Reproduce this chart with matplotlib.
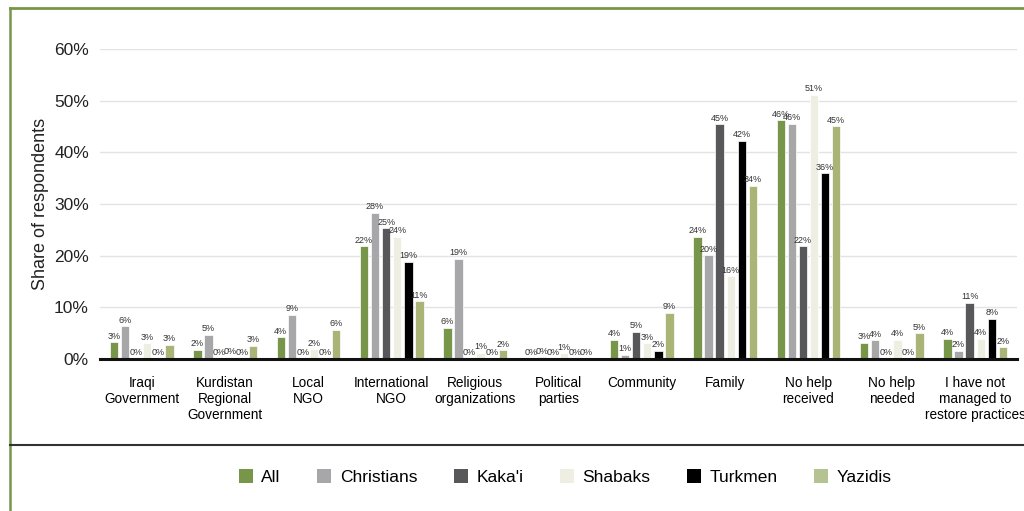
import matplotlib
matplotlib.use("Agg")
import matplotlib.pyplot as plt
import numpy as np
from matplotlib.lines import Line2D
from matplotlib.patches import Patch

categories = ["Iraqi\nGovernment", "Kurdistan\nRegional\nGovernment", "Local\nNGO",
              "International\nNGO", "Religious\norganizations", "Political\nparties",
              "Community", "Family", "No help\nreceived", "No help\nneeded",
              "I have not\nmanaged to\nrestore practices"]
groups = ["All", "Christians", "Kaka'i", "Shabaks", "Turkmen", "Yazidis"]

all_vals = [3.2, 1.8, 4.2, 21.8, 6.0, 0.0, 3.7, 23.6, 46.2, 3.1, 3.9]
christians = [6.3, 4.7, 8.6, 28.3, 19.4, 0.3, 0.8, 20.1, 45.5, 3.6, 1.6]
kakai = [0.0, 0.0, 0.0, 25.3, 0.0, 0.0, 5.3, 45.4, 21.8, 0.0, 10.9]
shabaks = [3.0, 0.3, 1.9, 23.6, 1.2, 1.1, 3.0, 16.0, 51.1, 3.7, 3.9]
turkmen = [0.0, 0.0, 0.0, 18.8, 0.0, 0.0, 1.6, 42.2, 35.9, 0.0, 7.8]
yazidis = [2.7, 2.6, 5.7, 11.2, 1.7, 0.0, 8.9, 33.5, 45.0, 5.0, 2.3]
series = [all_vals, christians, kakai, shabaks, turkmen, yazidis]

colors = ["#77964a", "#a7a7aa", "#58585a", "#eeeee2", "#000000", "#a9b476"]
legend_colors = ["#77964a", "#a7a7aa", "#58585a", "#eeeee2", "#000000", "#b5c292"]

plt.rcParams['font.family'] = ['Liberation Sans', 'DejaVu Sans']

fig = plt.figure(figsize=(10.24, 5.11), dpi=100)
ax = fig.add_axes([0.0977, 0.2975, 0.8953, 0.6067])

x = np.arange(len(categories))
w = 0.1
step = 0.133
for i, vals in enumerate(series):
    pos = x + (i - 2.5) * step
    bars = ax.bar(pos, vals, width=w, color=colors[i], edgecolor="white", linewidth=0.5, zorder=3)
    for b, v in zip(bars, vals):
        ax.text(b.get_x() + b.get_width() / 2, v + 0.3, f"{round(v)}%", ha="center", va="bottom",
                fontsize=6.5, color="#333333", zorder=4)

ax.set_xlim(-0.5, len(categories) - 0.5)
ax.set_ylim(0, 60)
ax.set_yticks(range(0, 61, 10))
ax.set_yticklabels([f"{t}%" for t in range(0, 61, 10)], fontsize=12.5, color="#222222")
ax.set_xticks(x)
ax.set_xticklabels(categories, fontsize=9.8, linespacing=1.2)
ax.tick_params(axis="y", length=0, pad=8)
ax.tick_params(axis="x", length=0, pad=12)
ax.grid(axis="y", color="#e3e3e3", linewidth=1, zorder=0)
for s in ["left", "right", "top"]:
    ax.spines[s].set_visible(False)
ax.spines["bottom"].set_linewidth(2.2)
ax.spines["bottom"].set_color("#111111")
ax.spines["bottom"].set_zorder(5)
ax.set_ylabel("Share of respondents", fontsize=13, labelpad=4, color="#222222")

# frame lines
fig.add_artist(Line2D([0.0098, 1.0], [0.984, 0.984], color="#77964a", linewidth=2))
fig.add_artist(Line2D([0.0098, 0.0098], [0.0, 0.984], color="#77964a", linewidth=1.8))
fig.add_artist(Line2D([0.0098, 1.0], [0.129, 0.129], color="#333333", linewidth=1.5))

handles = [Patch(facecolor=c, edgecolor="none") for c in legend_colors]
fig.legend(handles, groups, loc="center", bbox_to_anchor=(0.552, 0.067), ncol=6, frameon=False,
           fontsize=12.5, handlelength=0.8, handleheight=0.9, handletextpad=0.5, columnspacing=2.1)

fig.savefig("out.png", dpi=100)
